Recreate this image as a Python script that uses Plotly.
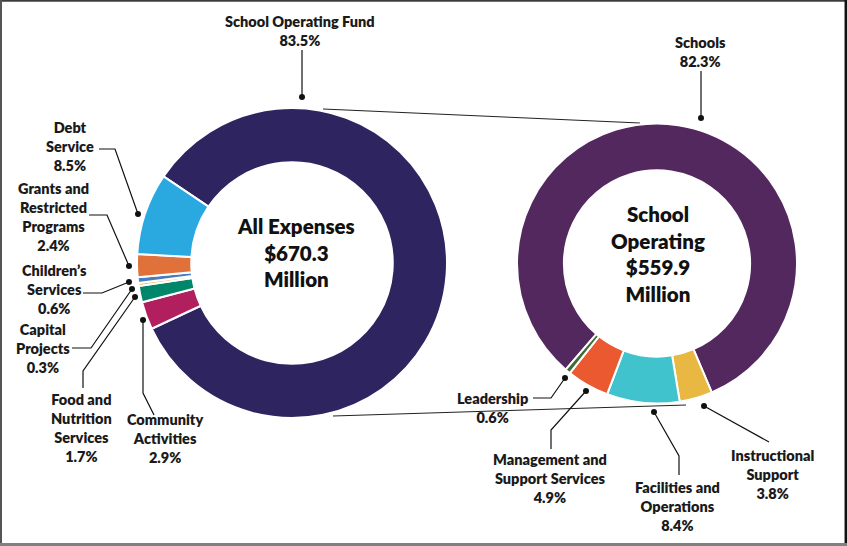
import plotly.graph_objects as go

W, H = 847, 546

# ---- data ---------------------------------------------------------------
# All expenses (clockwise order, starting with the largest slice)
all_names = ["School Operating Fund", "Community Activities", "Food and Nutrition Services",
             "Capital Projects", "Children’s Services", "Grants and Restricted Programs",
             "Debt Service"]
all_values = [83.5, 2.9, 1.7, 0.3, 0.6, 2.4, 8.5]
all_colors = ["#2E2560", "#B21F5F", "#00876B", "#F4B942", "#4B7CC0", "#E0713A", "#29A9E0"]
all_label_lines = ["School Operating Fund", "Community<br>Activities", "Food and<br>Nutrition<br>Services",
                   "Capital<br>Projects", "Children’s<br>Services", "Grants and<br>Restricted<br>Programs",
                   "Debt<br>Service"]
all_total = 670.3

# School operating fund breakdown (clockwise order)
sof_names = ["Schools", "Instructional Support", "Facilities and Operations",
             "Management and Support Services", "Leadership"]
sof_values = [82.3, 3.8, 8.4, 4.9, 0.6]
sof_colors = ["#53285E", "#E8B842", "#41C3CD", "#EA5930", "#3F6B35"]
sof_label_lines = ["Schools", "Instructional<br>Support", "Facilities and<br>Operations",
                   "Management and<br>Support Services", "Leadership"]
sof_total = 559.9

# ---- layout geometry (pixels) ----------------------------------------------
LEFT = dict(cx=292, cy=263, r=155, hole=0.65, rotation=304)
RIGHT = dict(cx=657, cy=263.5, r=140, hole=0.665, rotation=220.7)

# label block centre (x, y) and leader path (first point at text, last point is the dot)
left_label_pos = [
    (300, 30.5, [(302, 50), (302, 97)]),
    (165, 438, [(154, 415), (143, 393), (143, 320)]),
    (81, 428, [(83, 388), (83, 371), (135, 297)]),
    (43, 348, [(72, 348), (91, 348), (132, 289)]),
    (54, 289.5, [(83, 293), (102, 293), (129, 282)]),
    (53, 216.5, [(89, 215), (107, 215), (129, 266)]),
    (70, 146.5, [(99, 149), (115, 149), (138, 214)]),
]
right_label_pos = [
    (700, 52, [(701, 71), (701, 118)]),
    (772, 474.5, [(769, 442), (704, 406)]),
    (677, 506, [(679, 475), (679, 456), (654, 412)]),
    (550, 478, [(551, 449), (551, 430), (586, 391)]),
    (492, 407.5, [(533, 398), (551, 398), (565, 378)]),
]

FONT = "Lato, 'Open Sans', sans-serif"
INK = "#1A1A1A"


def domain(g):
    x0 = (g["cx"] - g["r"]) / W
    x1 = (g["cx"] + g["r"]) / W
    yb = H - g["cy"]
    y0 = (yb - g["r"]) / H
    y1 = (yb + g["r"]) / H
    return dict(x=[x0, x1], y=[y0, y1])


fig = go.Figure()

for names, vals, cols, g in [(all_names, all_values, all_colors, LEFT),
                             (sof_names, sof_values, sof_colors, RIGHT)]:
    fig.add_trace(go.Pie(
        labels=names, values=vals, sort=False, direction="clockwise",
        rotation=g["rotation"], hole=g["hole"], domain=domain(g),
        marker=dict(colors=cols, line=dict(color="white", width=2)),
        textinfo="none", hoverinfo="label+value", showlegend=False,
    ))

# connector lines between the two rings
for seg in [[(323, 109), (640, 123)], [(333, 416), (686, 405)]]:
    fig.add_trace(go.Scatter(x=[p[0] for p in seg], y=[p[1] for p in seg], mode="lines",
                             line=dict(color="#222222", width=1), hoverinfo="skip",
                             showlegend=False))

annotations = []
dots_x, dots_y = [], []
for lines, vals, positions in [(all_label_lines, all_values, left_label_pos),
                               (sof_label_lines, sof_values, right_label_pos)]:
    for text, v, (tx, ty, path) in zip(lines, vals, positions):
        annotations.append(dict(
            x=tx, y=ty, xref="x", yref="y", text=f"{text}<br>{v}%",
            showarrow=False, xanchor="center", yanchor="middle", align="center",
            font=dict(family=FONT, size=14.5, color=INK, weight=800)))
        fig.add_trace(go.Scatter(x=[p[0] for p in path], y=[p[1] for p in path], mode="lines",
                                 line=dict(color="#111111", width=1.2), hoverinfo="skip",
                                 showlegend=False))
        dots_x.append(path[-1][0])
        dots_y.append(path[-1][1])

fig.add_trace(go.Scatter(x=dots_x, y=dots_y, mode="markers",
                         marker=dict(color="#111111", size=6), hoverinfo="skip",
                         showlegend=False))

# centre titles
annotations.append(dict(x=296, y=252, xref="x", yref="y",
                        text=f"All Expenses<br>${all_total}<br>Million",
                        showarrow=False, align="center",
                        font=dict(family=FONT, size=20.5, color="#111111", weight=800)))
annotations.append(dict(x=658, y=253.5, xref="x", yref="y",
                        text=f"School<br>Operating<br>${sof_total}<br>Million",
                        showarrow=False, align="center",
                        font=dict(family=FONT, size=20.5, color="#111111", weight=800)))

# frame
shapes = [
    dict(type="line", x0=0, x1=W, y0=0.8, y1=0.8, line=dict(color="#3C3C3C", width=2)),
    dict(type="line", x0=1, x1=1, y0=0, y1=H, line=dict(color="#555555", width=2)),
    dict(type="line", x0=845.8, x1=845.8, y0=0, y1=H, line=dict(color="#111111", width=2.5)),
    dict(type="line", x0=0, x1=W, y0=544.5, y1=544.5, line=dict(color="#808080", width=3)),
]

fig.update_layout(
    width=W, height=H, autosize=False,
    margin=dict(l=0, r=0, t=0, b=0),
    paper_bgcolor="white", plot_bgcolor="white",
    xaxis=dict(range=[0, W], visible=False, fixedrange=True),
    yaxis=dict(range=[H, 0], visible=False, fixedrange=True),
    annotations=annotations, shapes=shapes,
)

fig.write_html("out.html")
